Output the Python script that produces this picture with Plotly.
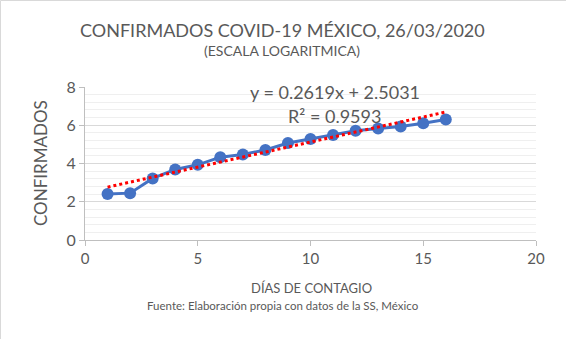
import plotly.graph_objects as go

dias = [1, 2, 3, 4, 5, 6, 7, 8, 9, 10, 11, 12, 13, 14, 15, 16]
confirmados_log = [2.40, 2.45, 3.22, 3.69, 3.93, 4.33, 4.47, 4.71, 5.07, 5.28, 5.49, 5.71, 5.83, 5.94, 6.11, 6.30]
pendiente = 0.2619
intercepto = 2.5031
r2 = 0.9593
x_ticks = [0, 5, 10, 15, 20]
y_ticks = [0, 2, 4, 6, 8]

FONT = "Lato"
GRAY = "#595959"

# plot area in pixels
L, R, T, B = 85, 536, 87, 240
W, H = R - L, B - T


def px(x):
    return (x - L) / W


def py(y):
    return (B - y) / H


tx = [dias[0], dias[-1]]
ty = [pendiente * v + intercepto for v in tx]

fig = go.Figure()
fig.add_trace(go.Scatter(x=dias, y=confirmados_log, mode="lines+markers",
                         line=dict(color="#4472C4", width=3),
                         marker=dict(color="#4472C4", size=12),
                         showlegend=False, cliponaxis=False))
fig.add_trace(go.Scatter(x=tx, y=ty, mode="lines",
                         line=dict(color="#FF0000", width=3, dash="dot"),
                         showlegend=False))

fig.update_layout(
    width=566, height=339,
    margin=dict(l=L, r=566 - R, t=T, b=339 - B),
    paper_bgcolor="white", plot_bgcolor="white",
    font=dict(family=FONT, color=GRAY),
    xaxis=dict(range=[0, 20], tickvals=x_ticks, showgrid=False, zeroline=False,
               showline=True, linecolor="#BFBFBF", linewidth=1,
               ticks="outside", tickcolor="#BFBFBF", ticklen=5,
               tickfont=dict(size=15, color=GRAY)),
    yaxis=dict(range=[0, 8], tickvals=y_ticks, showgrid=True, gridcolor="#D9D9D9", gridwidth=1,
               zeroline=False, showline=True, linecolor="#BFBFBF", linewidth=1,
               ticks="outside", tickcolor="#BFBFBF", ticklen=5,
               tickfont=dict(size=16, color=GRAY),
               minor=dict(dtick=0.4, showgrid=True, gridcolor="#EFEFEF", gridwidth=1)),
)


def text(x, y, s, size, angle=0):
    fig.add_annotation(x=px(x), y=py(y), xref="paper", yref="paper", showarrow=False,
                       text=s, textangle=angle, xanchor="center", yanchor="middle",
                       font=dict(size=size, color=GRAY, family=FONT))


text(282, 30, "CONFIRMADOS COVID-19 MÉXICO, 26/03/2020", 18)
text(282, 51, "(ESCALA LOGARITMICA)", 14)
text(40, 163, "CONFIRMADOS", 17, -90)
text(311, 288, "DÍAS DE CONTAGIO", 13)
text(283, 305, "Fuente: Elaboración propia con datos de la SS, México", 11.5)
text(335, 92, f"y = {pendiente}x + {intercepto}", 18)
text(334, 116, f"R² = {r2}", 18)

fig.add_shape(type="rect", xref="paper", yref="paper",
              x0=px(0.5), x1=px(571), y0=py(345), y1=py(0.5),
              line=dict(color="#D9D9D9", width=1), layer="below")

fig.write_html("out.html")
